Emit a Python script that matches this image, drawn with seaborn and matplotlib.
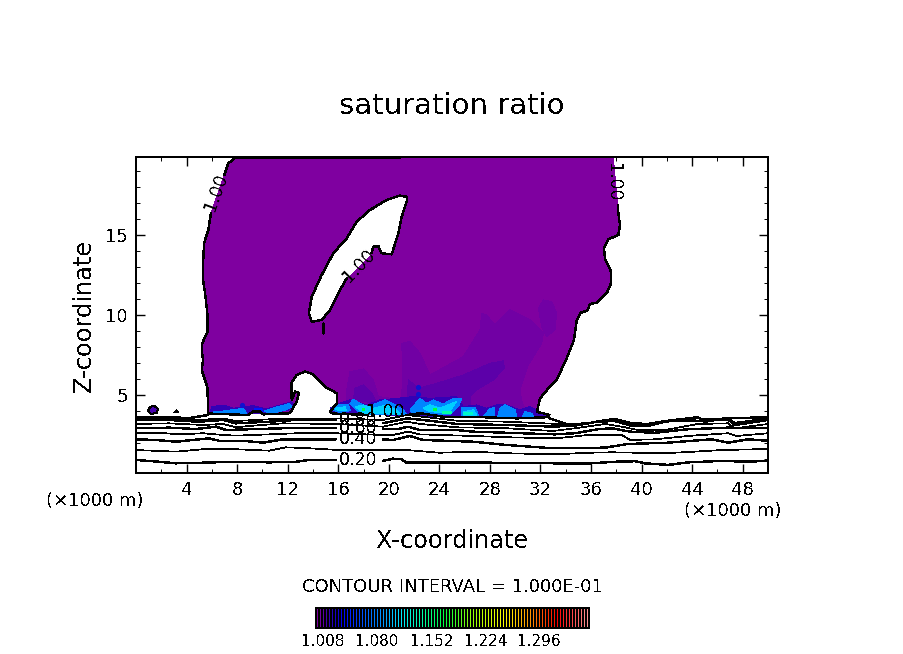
import numpy as np
import matplotlib
matplotlib.use("Agg")
import matplotlib.pyplot as plt
from matplotlib.colors import LinearSegmentedColormap, Normalize
import seaborn as sns

# x in 1000 m, z in 1000 m

# saturation ratio = 1.00 contour around the cloud
cloud_left_x = [5.93, 5.72, 5.38, 5.32, 5.28, 5.46, 5.64, 5.67, 5.25, 5.20, 5.30, 5.20, 5.64, 5.72, 5.72, 8.88, 9.26, 9.81, 10.07, 12.18, 12.71, 12.90, 12.58, 12.32, 12.29, 12.71, 13.37, 14.00, 14.95, 15.88, 15.88, 15.35, 15.59, 18.35]
cloud_left_z = [16.38, 15.31, 14.48, 13.44, 12.29, 11.38, 10.13, 8.96, 8.25, 7.81, 7.19, 6.56, 5.52, 3.96, 3.84, 3.75, 3.96, 3.96, 3.79, 3.86, 4.58, 5.13, 5.21, 4.69, 5.75, 6.25, 6.46, 6.31, 5.52, 5.11, 4.48, 3.96, 3.84, 3.75]
cloud_right_x = [21.42, 22.47, 24.31, 27.48, 30.12, 32.49, 32.70, 32.22, 31.72, 31.96, 32.59, 33.28, 34.07, 34.65, 34.87, 35.18, 35.70, 35.92, 36.45, 37.24, 37.58, 37.58, 37.10, 37.03, 37.37, 38.16, 38.29, 38.16, 38.11]
cloud_right_z = [3.75, 3.86, 3.64, 3.61, 3.54, 3.61, 3.75, 3.86, 3.94, 4.79, 5.38, 5.94, 7.29, 8.44, 9.69, 10.14, 10.27, 10.69, 10.77, 11.36, 11.98, 12.71, 13.54, 14.17, 14.73, 15.00, 15.63, 16.36, 16.88]
cloud_top_x = [37.90, 37.76, 37.76, 20.90, 7.83, 7.30, 6.99, 6.49]
cloud_top_z = [18.64, 19.81, 19.90, 19.90, 19.81, 19.48, 18.75, 17.63]
top_line_x = [20.90, 7.83, 7.30, 6.99]
top_line_z = [19.84, 19.81, 19.48, 18.75]

hole_a_x = [18.64, 18.76, 19.17, 19.43, 20.23, 20.75, 21.02, 21.46, 21.40, 20.88, 19.83, 18.51, 17.46, 16.67, 15.61, 14.69, 13.90, 13.68, 13.90, 14.69, 15.35, 16.14, 16.67]
hole_a_z = [13.86, 14.27, 14.31, 13.86, 13.79, 15.11, 16.14, 17.19, 17.39, 17.46, 17.19, 16.56, 15.83, 14.79, 13.86, 12.50, 11.14, 10.11, 9.58, 9.69, 10.31, 11.56, 12.29]
speck_x = [14.82, 14.82]
speck_z = [9.50, 8.88]

blob_x = [0.95, 1.11, 1.42, 1.74, 1.66, 1.19, 0.95]
blob_z = [4.00, 4.25, 4.34, 4.13, 3.88, 3.81, 4.00]
tri_x = [3.00, 3.20, 3.40]
tri_z = [3.88, 4.09, 3.88]

# filled bands inside the cloud
band1_x = [23.26, 25.90, 27.22, 27.35, 27.74, 28.40, 29.59, 31.17, 32.23, 32.10, 31.04, 30.38, 30.51, 30.91, 21.15, 16.67, 16.67, 16.93, 17.99, 18.78, 19.17, 21.02, 21.10, 21.02, 21.68, 22.47]
band1_z = [6.25, 7.40, 9.07, 10.11, 10.00, 9.38, 10.32, 9.69, 8.86, 8.23, 6.88, 5.32, 4.69, 3.75, 3.75, 3.86, 5.32, 6.46, 6.63, 5.94, 4.90, 4.69, 6.77, 8.23, 8.34, 7.61]
oval_x = [31.83, 32.23, 32.89, 33.28, 33.15, 32.49, 32.10]
oval_z = [10.42, 10.94, 10.84, 10.11, 9.07, 8.65, 9.27]
band2a_x = [17.20, 17.33, 17.99, 18.65, 19.04]
band2a_z = [4.69, 5.42, 5.63, 5.11, 4.48]
band2b_x = [21.42, 21.55, 22.34, 23.79, 25.90, 28.01, 29.06, 29.14, 28.27, 26.95, 26.43, 26.43, 21.68]
band2b_z = [4.48, 5.94, 5.42, 5.73, 6.25, 6.98, 7.13, 6.67, 5.94, 5.32, 4.90, 3.86, 3.86]
band3_x = [15.35, 16.14, 16.93, 18.25, 19.31, 20.62, 21.94, 23.26, 25.37, 25.90, 26.95, 27.74, 28.54, 29.33, 30.38, 31.17, 32.49, 31.17, 25.90, 21.42, 15.35]
band3_z = [4.17, 4.48, 4.69, 4.38, 4.69, 4.79, 4.90, 4.79, 4.90, 4.27, 4.38, 4.17, 4.38, 4.38, 4.07, 4.27, 3.75, 3.61, 3.61, 3.71, 3.86]
band3l_x = [5.98, 6.91, 7.70, 8.49, 9.28, 10.33, 11.39, 12.31, 12.58, 12.05, 10.33, 9.41, 7.96, 5.85]
band3l_z = [4.27, 4.37, 4.17, 4.27, 4.33, 4.13, 4.37, 4.58, 4.33, 4.06, 3.85, 3.85, 3.75, 3.85]

bl1_x = [15.48, 15.88, 16.80, 16.98, 16.14]
bl1_z = [4.07, 4.38, 4.38, 4.02, 3.90]
bl2_x = [16.93, 17.20, 17.72, 18.25, 19.04, 19.70, 20.49, 21.15, 21.42, 19.31, 17.72]
bl2_z = [4.48, 4.73, 4.48, 4.27, 4.48, 4.69, 4.38, 4.07, 3.75, 3.75, 3.86]
bl3_x = [21.68, 22.47, 23.00, 23.52, 24.32, 25.11, 25.77, 25.50, 24.84, 23.26, 21.94]
bl3_z = [4.07, 4.79, 4.48, 4.69, 4.44, 4.79, 4.79, 4.27, 3.75, 3.86, 3.75]
bl4_x = [25.77, 26.82, 27.08, 25.77]
bl4_z = [4.23, 4.23, 3.75, 3.65]
bl5_x = [27.48, 27.95, 28.40, 28.32]
bl5_z = [3.65, 4.11, 4.23, 3.65]
bl6_x = [28.61, 28.80, 29.19, 29.99, 30.12]
bl6_z = [3.65, 4.17, 4.38, 4.07, 3.65]
bl7_x = [30.59, 30.78, 31.30, 31.44]
bl7_z = [3.65, 3.96, 3.86, 3.65]
bl8_x = [6.10, 6.91, 8.49, 8.75, 7.17, 6.10]
bl8_z = [3.98, 4.00, 4.17, 3.87, 3.75, 3.85]
bl9_x = [9.41, 9.94, 10.07, 9.28]
bl9_z = [4.17, 4.13, 3.96, 3.96]
bl10_x = [10.20, 11.13, 12.13, 12.34, 11.78, 10.47]
bl10_z = [4.00, 4.25, 4.46, 4.25, 4.04, 3.81]

cy1_x = [15.75, 16.54, 16.67, 16.00]
cy1_z = [4.17, 4.27, 4.00, 4.00]
cy2_x = [17.33, 17.99, 18.78, 19.83, 20.62, 20.89, 17.99]
cy2_z = [4.27, 4.38, 4.17, 4.38, 4.07, 3.79, 3.86]
cy3_x = [22.73, 23.26, 24.05, 24.97, 25.37, 24.71, 23.26]
cy3_z = [4.17, 4.38, 4.17, 4.48, 4.59, 3.86, 3.96]
cy4_x = [25.90, 26.69, 26.95, 25.90]
cy4_z = [3.96, 4.07, 3.75, 3.71]
gr1_x = [17.86, 18.12, 18.12, 17.86]
gr1_z = [4.21, 4.21, 4.02, 4.02]
gr2_x = [23.52, 23.84, 23.84, 23.52]
gr2_z = [4.19, 4.19, 4.00, 4.00]
gr3_x = [24.18, 24.97, 24.97, 24.18]
gr3_z = [4.02, 4.02, 3.81, 3.81]
gr4_x = [25.90, 26.69, 26.69, 25.90]
gr4_z = [3.96, 3.96, 3.75, 3.75]
dots_x = [22.28, 22.28, 8.38]
dots_z = [5.48, 5.07, 4.37]

# sub-saturated contours near the ground, each split at its inline label
c20_x = [0, 1.34, 3.16, 5.30, 7.91, 10.52, 12.66, 13.69, 15.82]
c20_z = [0.94, 0.86, 0.73, 0.77, 0.83, 0.79, 0.83, 0.94, 0.94]
c20b_x = [19.56, 20.33, 21.02, 21.41, 24.05, 28.00, 33.14, 36.05, 37.90, 39.48, 40.27, 42.11, 43.69, 46.60, 47.91, 50]
c20b_z = [0.89, 1.02, 0.98, 0.77, 0.77, 0.77, 0.73, 0.73, 0.83, 0.86, 0.73, 0.63, 0.79, 0.89, 0.83, 0.875]
c30_x = [0, 3.16, 5.30, 7.91, 10.52, 11.87, 13.69, 16.06, 19.54, 21.44, 24.05, 26.66, 29.35, 33.14, 35.75, 37.65, 41.84, 44.22, 46.35, 50]
c30_z = [1.56, 1.46, 1.61, 1.61, 1.52, 1.73, 1.67, 1.56, 1.56, 1.56, 1.39, 1.46, 1.36, 1.29, 1.39, 1.42, 1.36, 1.46, 1.56, 1.625]
c40_x = [0, 1.58, 3.16, 5.77, 6.57, 8.46, 10.05, 11.63, 15.82]
c40_z = [2.23, 2.19, 2.08, 2.29, 2.14, 2.14, 2.02, 2.23, 2.23]
c40b_x = [19.54, 20.33, 21.67, 22.70, 26.66, 29.35, 32.98, 37.10, 38.92, 42.08, 45.56, 46.83, 48.41, 50]
c40b_z = [2.23, 2.19, 2.44, 2.19, 2.08, 1.875, 1.67, 1.71, 1.94, 2.02, 2.23, 2.02, 2.23, 2.14]
c50_x = [0, 1.82, 3.40, 5.30, 6.88, 7.91, 10.52, 13.69, 15.82, 19.54, 20.33, 21.52, 22.46, 26.66, 29.35, 33.14, 34.49, 35.75, 38.44, 39.08, 41.05, 43.66, 46.83, 47.54, 50]
c50_z = [2.61, 2.64, 2.54, 2.61, 2.50, 2.46, 2.54, 2.64, 2.61, 2.50, 2.50, 2.71, 2.54, 2.44, 2.36, 2.29, 2.39, 2.50, 2.50, 2.19, 2.23, 2.44, 2.61, 2.44, 2.61]
c60_x = [0, 2.61, 4.75, 6.33, 7.12, 8.94, 11.63, 15.82]
c60_z = [2.92, 2.96, 2.875, 3.02, 2.81, 2.86, 2.92, 2.92]
c60b_x = [19.54, 20.65, 21.52, 22.46, 25.39, 26.66, 29.35, 33.14, 34.73, 36.55, 37.65, 39.08, 41.05, 43.66, 46.83, 50]
c60b_z = [2.86, 2.86, 3.02, 2.81, 2.81, 2.71, 2.64, 2.54, 2.61, 2.86, 2.92, 2.71, 2.64, 2.86, 2.96, 2.92]
c70_x = [0, 2.61, 5.30, 6.88, 7.91, 8.94, 11.63, 15.82, 19.54, 21.44, 22.46, 25.39, 29.35, 32.98, 34.73, 37.10, 38.44, 39.71, 41.84, 44.45, 46.83, 47.38, 50]
c70_z = [3.19, 3.23, 3.125, 3.19, 2.98, 3.06, 3.23, 3.19, 3.02, 3.33, 3.19, 2.98, 2.92, 2.75, 2.92, 3.19, 3.02, 2.81, 2.81, 3.19, 3.23, 2.92, 3.19]
c80_x = [0, 2.61, 4.98, 6.88, 7.91, 10.52, 12.66, 15.82]
c80_z = [3.44, 3.44, 3.33, 3.44, 3.23, 3.33, 3.44, 3.44]
c80b_x = [19.54, 21.44, 22.70, 25.39, 29.35, 33.14, 34.73, 36.55, 37.90, 39.24, 40.50, 42.08, 44.45, 46.83, 47.38, 50]
c80b_z = [3.23, 3.54, 3.44, 3.19, 3.125, 3.02, 3.125, 3.33, 3.375, 3.06, 3.06, 3.375, 3.39, 3.48, 3.125, 3.44]
c90_x = [0, 2.61, 4.98, 6.88, 7.91, 10.52, 12.66, 15.82, 19.54, 21.44, 22.70, 25.39, 29.35, 33.14, 34.73, 35.75, 37.90, 39.24, 40.50, 42.08, 44.45, 46.83, 47.38, 50]
c90_z = [3.54, 3.54, 3.44, 3.54, 3.375, 3.48, 3.54, 3.54, 3.44, 3.75, 3.64, 3.39, 3.33, 3.20, 3.19, 3.27, 3.44, 3.23, 3.125, 3.33, 3.54, 3.54, 3.27, 3.54]
c100a_x = [0, 2.61, 4.27, 5.69]
c100a_z = [3.63, 3.61, 3.56, 3.75]
c100b_x = [32.67, 34.49, 35.75, 36.86, 37.90, 39.24, 40.50, 42.08, 44.45, 45.00, 46.60, 50]
c100b_z = [3.56, 3.06, 3.23, 3.39, 3.50, 3.23, 3.19, 3.39, 3.61, 3.33, 3.54, 3.61]

x_ticks = [4, 8, 12, 16, 20, 24, 28, 32, 36, 40, 44, 48]
z_ticks = [5, 10, 15]

# colour bar levels, one cell per contour step
bar_levels = [
    1.000, 1.004, 1.008, 1.012, 1.016, 1.020, 1.024, 1.028, 1.032, 1.036, 1.040, 1.044, 1.048,
    1.052, 1.056, 1.060, 1.064, 1.068, 1.072, 1.076, 1.080, 1.084, 1.088, 1.092, 1.096, 1.100,
    1.104, 1.108, 1.112, 1.116, 1.120, 1.124, 1.128, 1.132, 1.136, 1.140, 1.144, 1.148, 1.152,
    1.156, 1.160, 1.164, 1.168, 1.172, 1.176, 1.180, 1.184, 1.188, 1.192, 1.196, 1.200, 1.204,
    1.208, 1.212, 1.216, 1.220, 1.224, 1.228, 1.232, 1.236, 1.240, 1.244, 1.248, 1.252, 1.256,
    1.260, 1.264, 1.268, 1.272, 1.276, 1.280, 1.284, 1.288, 1.292, 1.296, 1.300, 1.304, 1.308,
    1.312, 1.316, 1.320, 1.324, 1.328, 1.332, 1.336, 1.340, 1.344, 1.348, 1.352, 1.356, 1.360,
]
bar_labels = [1.008, 1.080, 1.152, 1.224, 1.296]

colour_stops = [
    (0.000, "#7f00a0"), (0.011, "#6c00a6"), (0.022, "#5800aa"), (0.040, "#3800b4"),
    (0.070, "#1400c8"), (0.090, "#0000ff"), (0.180, "#0060ff"), (0.250, "#00a0ff"),
    (0.310, "#00e8ff"), (0.380, "#00ffb0"), (0.470, "#00ff40"), (0.580, "#a0ff00"),
    (0.690, "#ffff00"), (0.780, "#ffa000"), (0.890, "#ff0000"), (1.000, "#ff9090"),
]

sns.set_style("ticks")
plt.rcParams["font.family"] = ["DejaVu Sans"]
plt.rcParams["lines.antialiased"] = False
plt.rcParams["patch.antialiased"] = False
plt.rcParams["text.antialiased"] = False
plt.rcParams["text.color"] = "black"
plt.rcParams["axes.edgecolor"] = "black"
plt.rcParams["xtick.color"] = "black"
plt.rcParams["ytick.color"] = "black"

cmap = LinearSegmentedColormap.from_list("ncar", colour_stops)
norm = Normalize(1.0, 1.36)


def contour(ax, xs, zs, lw=1.0):
    sns.lineplot(x=xs, y=zs, sort=False, estimator=None, color="black", linewidth=lw, legend=False, ax=ax)


def shade(ax, xs, zs, level):
    ax.fill(xs, zs, color=cmap(norm(level)), linewidth=0)


def px_text(fig, px, py, s, size, **kw):
    fig.text(px / 904, 1 - py / 654, s, fontsize=size, ha="center", va="center", **kw)


fig = plt.figure(figsize=(9.04, 6.54), dpi=100)
ax = fig.add_axes([136 / 904, 1 - 473 / 654, 632 / 904, 316 / 654])

shade(ax, cloud_left_x + cloud_right_x + cloud_top_x, cloud_left_z + cloud_right_z + cloud_top_z, 1.0)
ax.fill(hole_a_x, hole_a_z, color="white", linewidth=0)
shade(ax, blob_x, blob_z, 1.012)

shade(ax, band1_x, band1_z, 1.004)
shade(ax, oval_x, oval_z, 1.004)
shade(ax, band2a_x, band2a_z, 1.008)
shade(ax, band2b_x, band2b_z, 1.008)
shade(ax, band3_x, band3_z, 1.016)
shade(ax, band3l_x, band3l_z, 1.016)
for xs, zs in [(bl1_x, bl1_z), (bl2_x, bl2_z), (bl3_x, bl3_z), (bl4_x, bl4_z), (bl5_x, bl5_z),
               (bl6_x, bl6_z), (bl7_x, bl7_z), (bl8_x, bl8_z), (bl10_x, bl10_z)]:
    shade(ax, xs, zs, 1.08)
shade(ax, bl9_x, bl9_z, 1.04)
for xs, zs in [(cy1_x, cy1_z), (cy2_x, cy2_z), (cy3_x, cy3_z), (cy4_x, cy4_z)]:
    shade(ax, xs, zs, 1.105)
shade(ax, gr1_x, gr1_z, 1.17)
shade(ax, gr2_x, gr2_z, 1.17)
shade(ax, gr3_x, gr3_z, 1.14)
shade(ax, gr4_x, gr4_z, 1.13)
sns.scatterplot(x=dots_x, y=dots_z, s=14, color="#1010d0", linewidth=0, legend=False, ax=ax)

contour(ax, cloud_left_x, cloud_left_z)
contour(ax, cloud_right_x, cloud_right_z)
contour(ax, top_line_x, top_line_z)
contour(ax, hole_a_x, hole_a_z)
contour(ax, speck_x, speck_z)
contour(ax, blob_x, blob_z, lw=0.7)
ax.fill(tri_x, tri_z, color="black", linewidth=0)

for xs, zs in [(c20_x, c20_z), (c20b_x, c20b_z), (c40_x, c40_z), (c40b_x, c40b_z), (c60_x, c60_z),
               (c60b_x, c60b_z), (c80_x, c80_z), (c80b_x, c80b_z), (c100a_x, c100a_z), (c100b_x, c100b_z)]:
    contour(ax, xs, zs)
for xs, zs in [(c30_x, c30_z), (c50_x, c50_z), (c70_x, c70_z), (c90_x, c90_z)]:
    contour(ax, xs, zs, lw=0.5)

# inline contour labels
for x, z, s, rot in [(17.56, 0.94, "0.20", 0), (17.56, 2.25, "0.40", 0), (17.56, 2.94, "0.60", 0),
                     (17.56, 3.44, "0.80", 0), (19.70, 3.94, "1.00", 0), (6.33, 17.69, "1.00", 70),
                     (17.65, 13.07, "1.00", 46), (37.75, 18.31, "1.00", -90)]:
    ax.text(x, z, s, fontsize=12.5, rotation=rot, ha="center", va="center")

ax.set_xlim(0, 50)
ax.set_ylim(0.125, 19.875)
ax.set_xticks(x_ticks)
ax.set_yticks(z_ticks)
ax.set_xticks(np.arange(2, 50, 4), minor=True)
ax.set_yticks([z for z in range(1, 20) if z not in z_ticks], minor=True)
ax.tick_params(which="major", direction="in", top=True, right=True, length=6.5, width=1.0, pad=6, labelsize=13)
ax.tick_params(which="minor", direction="in", top=True, right=True, length=3, width=0.7)
for side in ax.spines.values():
    side.set_visible(True)
    side.set_linewidth(1.1)

px_text(fig, 452, 106, "saturation ratio", 21)
px_text(fig, 452, 541, "X-coordinate", 17.3)
px_text(fig, 84, 315, "Z-coordinate", 17.3, rotation=90)
px_text(fig, 95, 501, "(×1000 m)", 13)
px_text(fig, 733, 511, "(×1000 m)", 13)
px_text(fig, 452, 587, "CONTOUR INTERVAL = 1.000E-01", 13)

cax = fig.add_axes([316 / 904, 1 - 628 / 654, 273 / 904, 20 / 654])
sns.heatmap(np.array([bar_levels]), cmap=cmap, vmin=1.0, vmax=1.36, cbar=False,
            xticklabels=False, yticklabels=False, ax=cax)
# black separators between the colour cells
cax.vlines(range(len(bar_levels) + 1), 0, 1, color="black", linewidth=1.1, antialiased=False)
for side in cax.spines.values():
    side.set_visible(True)
    side.set_linewidth(1.1)
cax.set_xticks([bar_levels.index(v) + 0.5 for v in bar_labels])
cax.set_xticklabels([f"{v:.3f}" for v in bar_labels], fontsize=11)
cax.tick_params(axis="x", length=0, pad=4)

fig.savefig("out.png", dpi=100)
